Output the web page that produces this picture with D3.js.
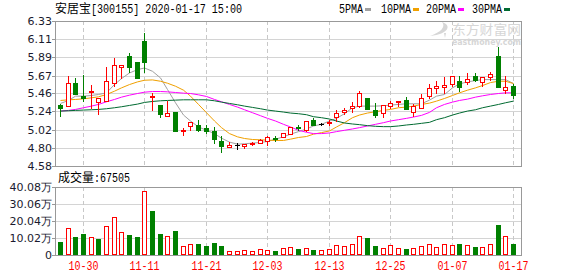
<!DOCTYPE html>
<html>
<head>
<meta charset="utf-8">
<script src="https://cdn.jsdelivr.net/npm/d3@7"></script>
<style>
body { margin: 0; background: #fff; }
svg { display: block; }
</style>
</head>
<body>
<div id="chart"></div>
<script>
// trading days shown on the chart (2019-10-25 .. 2020-01-17)
const dates = ['10-25','10-28','10-29','10-30','10-31','11-01','11-04','11-05','11-06','11-07','11-08',
  '11-11','11-12','11-13','11-14','11-15','11-18','11-19','11-20','11-21','11-22','11-25','11-26','11-27',
  '11-28','11-29','12-02','12-03','12-04','12-05','12-06','12-09','12-10','12-11','12-12','12-13','12-16',
  '12-17','12-18','12-19','12-20','12-23','12-24','12-25','12-26','12-27','12-30','12-31','01-02','01-03',
  '01-06','01-07','01-08','01-09','01-10','01-13','01-14','01-15','01-16','01-17'];

const opens = [5.32,5.31,5.58,5.43,5.47,5.35,5.36,5.58,5.77,5.91,5.83,6.09,5.41,5.32,5.18,5.23,5.00,5.06,5.08,5.04,
  5.00,4.88,4.81,4.83,4.82,4.85,4.86,4.88,4.92,4.93,4.97,5.05,5.02,5.13,5.09,5.10,5.17,5.23,5.28,5.31,
  5.40,5.25,5.22,5.30,5.35,5.38,5.23,5.28,5.43,5.52,5.53,5.57,5.61,5.59,5.67,5.59,5.66,5.91,5.50,5.54];
const highs = [5.33,5.67,5.64,5.68,5.56,5.40,5.78,5.88,5.80,5.94,5.83,6.19,5.46,5.32,5.36,5.23,5.04,5.11,5.13,5.07,
  5.05,4.94,4.87,4.86,4.85,4.87,4.90,4.94,4.94,4.98,5.05,5.08,5.12,5.16,5.10,5.13,5.25,5.28,5.35,5.49,
  5.40,5.34,5.32,5.37,5.37,5.41,5.33,5.45,5.57,5.60,5.65,5.67,5.67,5.70,5.70,5.66,5.71,6.02,5.67,5.57];
const lows = [5.18,5.31,5.45,5.36,5.28,5.21,5.36,5.54,5.64,5.72,5.64,5.72,5.26,5.17,5.18,5.00,4.96,5.02,5.00,4.98,
  4.86,4.75,4.81,4.78,4.80,4.83,4.86,4.83,4.88,4.93,4.97,5.01,5.00,5.07,5.07,5.08,5.12,5.21,5.23,5.29,
  5.27,5.17,5.17,5.28,5.30,5.27,5.18,5.28,5.40,5.46,5.46,5.54,5.48,5.57,5.60,5.54,5.62,5.53,5.46,5.40];
const closes = [5.28,5.58,5.45,5.40,5.48,5.40,5.61,5.80,5.80,5.78,5.64,5.83,5.42,5.21,5.22,5.00,5.01,5.11,5.02,5.00,
  4.90,4.82,4.83,4.83,4.85,4.86,4.89,4.93,4.91,4.98,5.05,5.04,5.12,5.08,5.09,5.11,5.22,5.26,5.30,5.46,
  5.27,5.19,5.32,5.34,5.37,5.27,5.30,5.40,5.52,5.54,5.56,5.67,5.53,5.63,5.62,5.65,5.69,5.53,5.53,5.44];

// volume in 万
const volumes = [7.66,15.9,10.6,12.4,10.6,9.43,16.9,22.2,13.4,11.8,10.6,37.7,25.9,12.4,11.2,14.1,5.3,6.3,6.5,5.3,
  7.07,5.3,2.2,2.2,2.8,2.2,3.4,2.8,2.4,3.9,4.5,3.5,3.9,2.9,2.8,3.5,5.7,5.1,6.3,11.2,
  10.0,5.3,3.9,5.7,3.9,3.4,3.9,5.3,6.3,4.5,6.3,5.7,6.5,5.7,4.7,4.7,6.3,17.7,11.2,6.7505];

const ma5 = [5.335,5.371,5.423,5.423,5.431,5.443,5.463,5.563,5.635,5.703,5.743,5.763,5.723,5.643,5.503,5.343,5.195,5.123,5.051,5.011,
  4.971,4.916,4.868,4.844,4.848,4.856,4.864,4.876,4.904,4.932,4.964,4.995,5.027,5.063,5.083,5.123,5.155,5.211,5.283,5.303,
  5.303,5.303,5.307,5.315,5.323,5.331,5.331,5.331,5.375,5.423,5.443,5.523,5.571,5.595,5.611,5.623,5.623,5.623,5.623,5.575];
const ma10 = [5.371,5.379,5.383,5.391,5.403,5.415,5.443,5.483,5.523,5.563,5.595,5.615,5.619,5.603,5.579,5.543,5.495,5.423,5.323,5.223,
  5.123,5.043,4.971,4.932,4.912,4.900,4.896,4.892,4.888,4.888,4.904,4.924,4.936,4.964,4.983,5.003,5.051,5.103,5.163,5.195,
  5.219,5.235,5.251,5.263,5.283,5.291,5.303,5.323,5.339,5.363,5.395,5.431,5.463,5.495,5.523,5.551,5.587,5.603,5.603,5.575];
const ma20 = [5.243,5.251,5.263,5.283,5.303,5.323,5.355,5.383,5.411,5.435,5.455,5.471,5.479,5.479,5.475,5.467,5.459,5.455,5.439,5.419,
  5.383,5.355,5.323,5.291,5.259,5.223,5.187,5.155,5.123,5.083,5.051,5.011,4.987,4.971,4.971,4.979,4.995,5.011,5.027,5.043,
  5.063,5.083,5.103,5.123,5.139,5.155,5.171,5.191,5.227,5.283,5.323,5.351,5.371,5.387,5.411,5.427,5.443,5.455,5.463,5.463];
const ma30 = [5.243,5.247,5.251,5.255,5.259,5.263,5.271,5.283,5.295,5.311,5.327,5.347,5.359,5.367,5.371,5.375,5.379,5.379,5.379,5.379,
  5.367,5.351,5.335,5.319,5.303,5.287,5.271,5.255,5.243,5.231,5.219,5.211,5.199,5.175,5.163,5.147,5.123,5.099,5.087,5.079,
  5.067,5.059,5.055,5.055,5.063,5.075,5.083,5.095,5.107,5.139,5.163,5.195,5.219,5.243,5.259,5.283,5.303,5.323,5.343,5.363];

const priceTicks = [4.58, 4.80, 5.02, 5.24, 5.46, 5.67, 5.89, 6.11, 6.33];
const volTicks = [0, 10.02, 20.04, 30.06, 40.08];
const tickDates = ['10-30','11-11','11-21','12-03','12-13','12-25','01-07','01-17'];
const maNames = ['5PMA', '10PMA', '20PMA', '30PMA'];
const maColors = ['#a0a0a0', '#f0a000', '#ff00ff', '#006a31'];

const W = 578, H = 276;
const left = 55, right = 522;
const pTop = 21, pBot = 166;
const vTop = 187, vBot = 255;
const RED = '#ff0000', GREEN = '#008000';
const CJK = '"Noto Sans CJK SC", sans-serif';
const MONO = '"Liberation Mono", monospace';

const svg = d3.select('#chart').append('svg')
  .attr('width', W).attr('height', H);

const x = d3.scaleBand().domain(dates).range([56, 517]);
const cx = d => Math.round(x(d) + x.bandwidth() / 2);
const y = d3.scaleLinear().domain([4.58, 6.33]).range([pBot, pTop]);
const yv = d3.scaleLinear().domain([0, 40.08]).range([vBot, vTop]);

// gridlines
function hgrid(scale, ticks) {
  svg.append('g').selectAll('line').data(ticks.slice(1, -1)).join('line')
    .attr('x1', left).attr('x2', right)
    .attr('y1', d => Math.round(scale(d)) + 0.5).attr('y2', d => Math.round(scale(d)) + 0.5)
    .attr('stroke', '#d4d4d4');
}
function vgrid(top, bot) {
  svg.append('g').selectAll('line').data(tickDates).join('line')
    .attr('x1', d => cx(d) + 0.5).attr('x2', d => cx(d) + 0.5)
    .attr('y1', top).attr('y2', bot)
    .attr('stroke', '#c8c8c8').attr('stroke-dasharray', '4,3');
}
hgrid(y, priceTicks);
hgrid(yv, volTicks);
vgrid(pTop, pBot);
vgrid(vTop, vBot);

// watermark
const wm = svg.append('g').attr('fill', '#d6d6d6');
wm.append('path')
  .attr('d', 'M442,22 C452,25 449,34 430,36 C441,32 446,27 442,22 Z M444,33 L446,33 L445,38 Z');
wm.append('text').attr('x', 452).attr('y', 34)
  .attr('font-family', CJK).attr('font-size', 13)
  .attr('textLength', 69).attr('lengthAdjust', 'spacingAndGlyphs')
  .text('东方财富网');
wm.append('text').attr('x', 452).attr('y', 45)
  .attr('font-family', '"DejaVu Sans", sans-serif').attr('font-size', 8).attr('font-weight', 'bold')
  .attr('textLength', 69).attr('lengthAdjust', 'spacingAndGlyphs')
  .text('eastmoney.com');

// frames
svg.append('rect').attr('x', left + 0.5).attr('y', pTop + 0.5)
  .attr('width', right - left - 1).attr('height', pBot - pTop)
  .attr('fill', 'none').attr('stroke', '#999');
svg.append('rect').attr('x', left + 0.5).attr('y', vTop + 0.5)
  .attr('width', right - left - 1).attr('height', vBot - vTop)
  .attr('fill', 'none').attr('stroke', '#999');

svg.append('clipPath').attr('id', 'pclip').append('rect')
  .attr('x', left + 1).attr('y', pTop + 1).attr('width', right - left - 2).attr('height', pBot - pTop - 1);

const plot = svg.append('g').attr('clip-path', 'url(#pclip)');

// moving averages
const line = d3.line().x((d, i) => cx(dates[i]) + 0.5).y(d => y(d));
[ma5, ma10, ma20, ma30].forEach((s, k) => {
  plot.append('path').datum(s)
    .attr('d', line).attr('fill', 'none')
    .attr('stroke', maColors[k]).attr('stroke-width', 1);
});

// candles
const candles = plot.append('g').selectAll('g').data(dates).join('g');
const colorOf = i => closes[i] > opens[i] ? RED : closes[i] < opens[i] ? GREEN : '#000';
candles.append('line')
  .attr('x1', (d) => cx(d) + 0.5).attr('x2', (d) => cx(d) + 0.5)
  .attr('y1', (d, i) => Math.round(y(highs[i]))).attr('y2', (d, i) => Math.round(y(lows[i])) + 1)
  .attr('stroke', (d, i) => colorOf(i));
candles.each(function(d, i) {
  const g = d3.select(this);
  const c = cx(d);
  const top = Math.round(y(Math.max(opens[i], closes[i])));
  const bot = Math.round(y(Math.min(opens[i], closes[i])));
  if (closes[i] > opens[i]) {
    g.append('rect').attr('x', c - 2 + 0.5).attr('y', top + 0.5)
      .attr('width', 4).attr('height', Math.max(bot - top, 1))
      .attr('fill', '#fff').attr('stroke', RED);
  } else if (closes[i] < opens[i]) {
    g.append('rect').attr('x', c - 2).attr('y', top)
      .attr('width', 5).attr('height', Math.max(bot - top, 1) + 1)
      .attr('fill', GREEN);
  } else {
    g.append('line').attr('x1', c - 2).attr('x2', c + 3)
      .attr('y1', top + 0.5).attr('y2', top + 0.5).attr('stroke', '#000');
  }
});

// volume bars, colour from close vs previous close
const volUp = i => i === 0 ? closes[i] >= opens[i] : closes[i] >= closes[i - 1];
svg.append('g').selectAll('rect').data(dates).join('rect')
  .attr('x', (d, i) => volUp(i) ? cx(d) - 2 + 0.5 : cx(d) - 2)
  .attr('y', (d, i) => volUp(i) ? Math.round(yv(volumes[i])) + 0.5 : Math.round(yv(volumes[i])))
  .attr('width', (d, i) => volUp(i) ? 4 : 5)
  .attr('height', (d, i) => vBot - Math.round(yv(volumes[i])) - (volUp(i) ? 1 : 0))
  .attr('fill', (d, i) => volUp(i) ? '#fff' : GREEN)
  .attr('stroke', (d, i) => volUp(i) ? RED : 'none');

// left axes: ticks and labels
function leftAxis(scale, ticks, fmt) {
  const g = svg.append('g');
  g.selectAll('line').data(ticks).join('line')
    .attr('x1', left - 3).attr('x2', left)
    .attr('y1', d => Math.round(scale(d)) + 0.5).attr('y2', d => Math.round(scale(d)) + 0.5)
    .attr('stroke', '#999');
  g.selectAll('text').data(ticks).join('text')
    .attr('x', left - 3).attr('y', d => Math.round(scale(d)) + 4)
    .attr('text-anchor', 'end').attr('fill', '#1a1a2e')
    .attr('font-family', '"DejaVu Sans", sans-serif').attr('font-size', 11)
    .text(fmt);
}
leftAxis(y, priceTicks, d => d.toFixed(2));
leftAxis(yv, volTicks, d => d === 0 ? '0' : d.toFixed(2) + '万');

// date labels
svg.append('g').selectAll('text').data(tickDates).join('text')
  .attr('x', d => cx(d) + 0.5).attr('y', 270)
  .attr('text-anchor', 'middle').attr('fill', RED)
  .attr('font-family', MONO).attr('font-size', 12)
  .attr('textLength', 30).attr('lengthAdjust', 'spacingAndGlyphs')
  .text(d => d);

// header
svg.append('text').attr('x', 55).attr('y', 13)
  .attr('font-family', CJK).attr('font-size', 12).attr('fill', '#000').text('安居宝');
svg.append('text').attr('x', 91).attr('y', 13)
  .attr('font-family', MONO).attr('font-size', 12).attr('fill', '#000')
  .attr('textLength', 151).attr('lengthAdjust', 'spacingAndGlyphs')
  .text('[300155] 2020-01-17 15:00');

// legend
const legX = [339, 381, 426, 472];
maNames.forEach((n, k) => {
  svg.append('text').attr('x', legX[k]).attr('y', 13)
    .attr('font-family', MONO).attr('font-size', 12).attr('fill', '#000')
    .attr('textLength', n.length * 6).attr('lengthAdjust', 'spacingAndGlyphs')
    .text(n);
  svg.append('rect').attr('x', legX[k] + n.length * 6 + 2).attr('y', 8)
    .attr('width', 6).attr('height', 3).attr('fill', maColors[k]);
});

// volume title
svg.append('text').attr('x', 58).attr('y', 182)
  .attr('font-family', CJK).attr('font-size', 12).attr('fill', '#000').text('成交量');
svg.append('text').attr('x', 94).attr('y', 182)
  .attr('font-family', MONO).attr('font-size', 12).attr('fill', '#000')
  .attr('textLength', 36).attr('lengthAdjust', 'spacingAndGlyphs')
  .text(':' + Math.round(volumes[volumes.length - 1] * 10000));
</script>
</body>
</html>
